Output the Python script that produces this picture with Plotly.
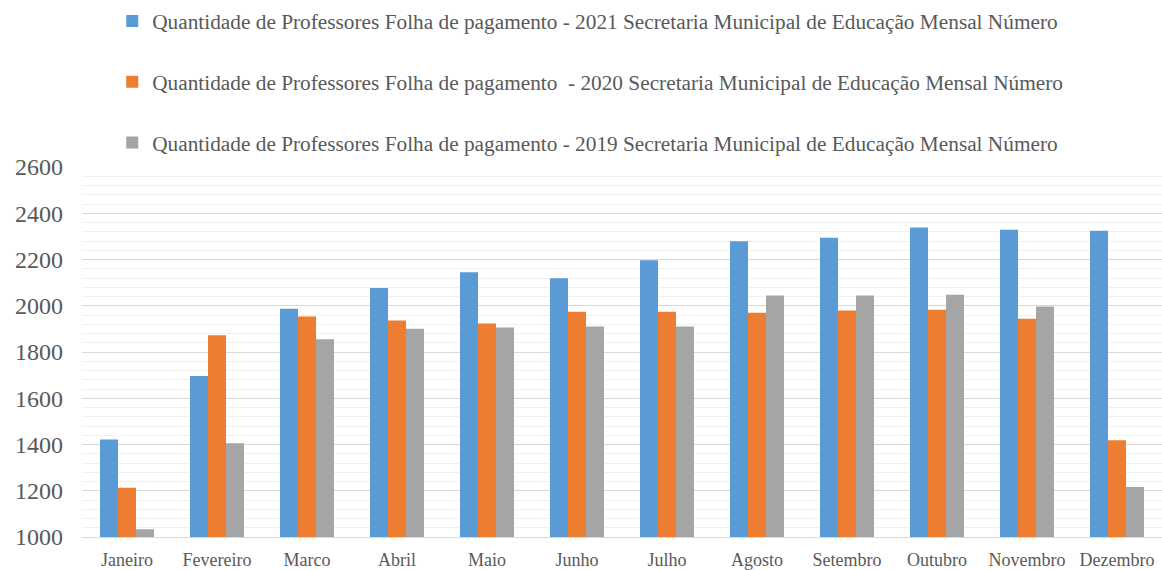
import plotly.graph_objects as go

meses = ["Janeiro", "Fevereiro", "Marco", "Abril", "Maio", "Junho",
         "Julho", "Agosto", "Setembro", "Outubro", "Novembro", "Dezembro"]

prof_2021 = [1422, 1696, 1987, 2077, 2145, 2119, 2197, 2279, 2294, 2338, 2329, 2324]
prof_2020 = [1213, 1872, 1953, 1936, 1923, 1974, 1974, 1970, 1979, 1983, 1944, 1418]
prof_2019 = [1033, 1405, 1855, 1901, 1906, 1910, 1910, 2044, 2044, 2048, 1997, 1216]

nomes = [
    "Quantidade de Professores Folha de pagamento - 2021 Secretaria Municipal de Educação Mensal Número",
    "Quantidade de Professores Folha de pagamento\u00a0 - 2020 Secretaria Municipal de Educação Mensal Número",
    "Quantidade de Professores Folha de pagamento - 2019 Secretaria Municipal de Educação Mensal Número",
]
cores = ["#5B9BD5", "#ED7D31", "#A5A5A5"]

fig = go.Figure()
for i, (serie, nome, cor) in enumerate(zip([prof_2021, prof_2020, prof_2019], nomes, cores)):
    fig.add_trace(go.Bar(
        x=meses, y=serie, name=nome, legendgroup=f"g{i}",
        marker=dict(color=cor, line=dict(width=0)),
    ))

texto = dict(family="Liberation Serif, Times New Roman, serif", color="#595959")

fig.update_layout(
    width=1162, height=570,
    margin=dict(l=82, r=0, t=167, b=29),
    paper_bgcolor="white", plot_bgcolor="white",
    barmode="group", bargap=0.4, bargroupgap=0,
    font=texto,
    legend=dict(
        x=0.028, y=1.009, xanchor="left", yanchor="bottom",
        orientation="v", traceorder="grouped", tracegroupgap=30,
        font=dict(size=21.3, **texto), bgcolor="rgba(0,0,0,0)",
    ),
    yaxis=dict(
        range=[1000, 2600], dtick=200, tick0=1000,
        showgrid=True, gridcolor="#D9D9D9", gridwidth=1,
        minor=dict(dtick=40, showgrid=True, gridcolor="#EFEFEF", gridwidth=1),
        zeroline=False, showline=False,
        tickfont=dict(size=24, **texto), ticklabelstandoff=18,
    ),
    xaxis=dict(
        showline=True, linecolor="#D9D9D9", linewidth=1,
        showgrid=False, tickfont=dict(size=18, **texto),
        ticks="", ticklabelstandoff=6,
    ),
)

fig.write_html("out.html")
